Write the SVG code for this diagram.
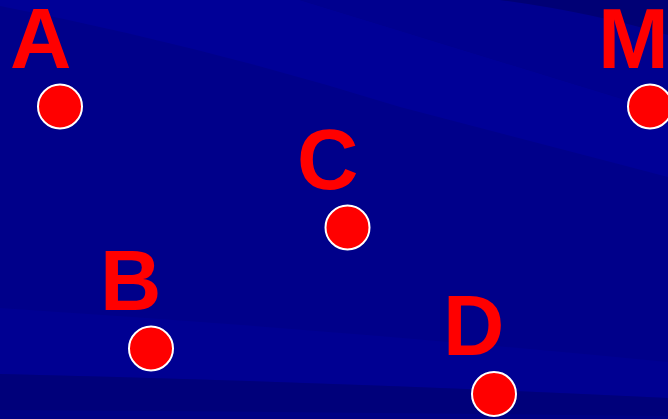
<svg xmlns="http://www.w3.org/2000/svg" width="668" height="419" viewBox="0 0 668 419">
<style>
.lbl{font-family:"Liberation Sans",Arial,sans-serif;font-weight:bold;font-size:85px;fill:#ff0000}
.dot{fill:#ff0000;stroke:#ffffff;stroke-width:2}
</style>
<g id="background">
<rect width="668" height="419" fill="#00008a"/>
<path d="M0,6 Q200,45 400,107 L668,177 L668,113 L300,0 L0,0 Z" fill="#000097"/>
<path d="M300,0 L668,113 L668,35 Q590,12 500,0 Z" fill="#00008f"/>
<path d="M500,0 Q590,12 668,35 L668,0 Z" fill="#000075"/>
<path d="M0,308 Q340,330 668,362 L668,398 Q340,382 0,374 Z" fill="#000092"/>
<path d="M0,374 Q340,382 668,398 L668,419 L0,419 Z" fill="#00007a"/>
<path d="M0,410 Q340,412 668,416 L668,419 L0,419 Z" fill="#000084"/>
</g>
<g id="node-A"><text class="lbl" x="10" y="68">A</text><circle class="dot" cx="60" cy="106.5" r="22"/></g>
<g id="node-M"><text class="lbl" x="598" y="68">M</text><circle class="dot" cx="650" cy="106.5" r="22"/></g>
<g id="node-C"><text class="lbl" x="297" y="189">C</text><circle class="dot" cx="347.5" cy="227.5" r="22"/></g>
<g id="node-B"><text class="lbl" x="100" y="310">B</text><circle class="dot" cx="151" cy="348.5" r="22"/></g>
<g id="node-D"><text class="lbl" x="443" y="355">D</text><circle class="dot" cx="494" cy="394" r="22"/></g>
<g id="connectors"/>
</svg>
